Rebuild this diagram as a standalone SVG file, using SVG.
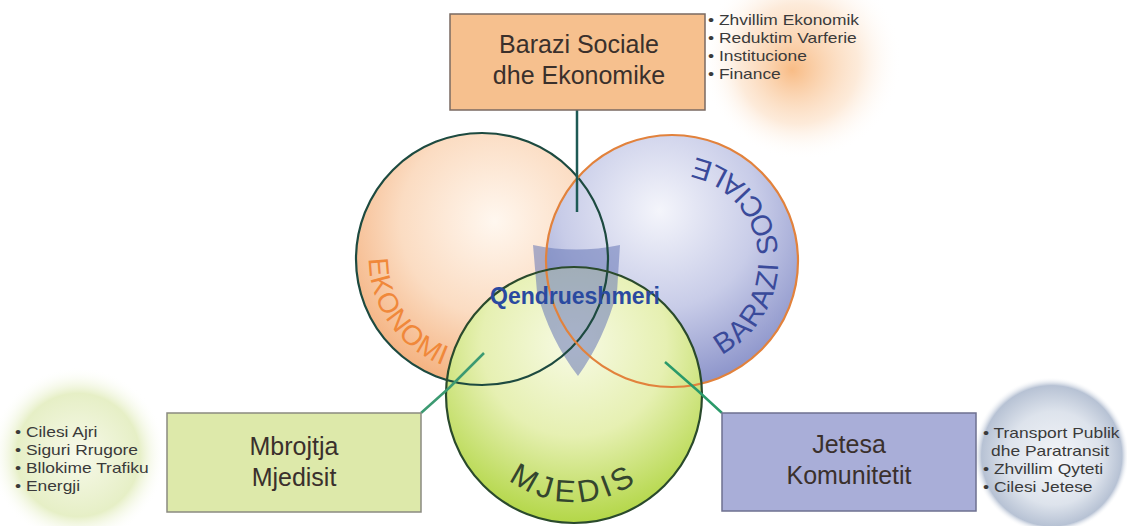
<svg xmlns="http://www.w3.org/2000/svg" width="1127" height="526" viewBox="0 0 1127 526">
<style>
.box{stroke-width:1.5}
.bt{font-family:"Liberation Sans",Arial,sans-serif;font-size:25px;fill:#3a302c;text-anchor:middle}
.bl{font-family:"Liberation Sans",Arial,sans-serif;font-size:15px;fill:#3a3a3a}
.ring{fill:none;stroke-width:2.2}
.conn{fill:none;stroke-width:2.5;stroke-linejoin:round}
.arc{font-family:"Liberation Sans",Arial,sans-serif}
</style>
<defs>
<radialGradient id="ekoG" cx="0.55" cy="0.35" r="0.75">
<stop offset="0" stop-color="#fff7ef"/><stop offset="0.5" stop-color="#fbdcc2"/><stop offset="1" stop-color="#f2a56c"/>
</radialGradient>
<radialGradient id="barG" cx="0.45" cy="0.3" r="0.78">
<stop offset="0" stop-color="#f4f5fb"/><stop offset="0.5" stop-color="#c8cce8"/><stop offset="1" stop-color="#7f88c4"/>
</radialGradient>
<radialGradient id="mjeG" cx="0.5" cy="0.3" r="0.8">
<stop offset="0" stop-color="#f7fae4"/><stop offset="0.45" stop-color="#e6f0b2"/><stop offset="1" stop-color="#a4cf28"/>
</radialGradient>
<radialGradient id="orG" cx="0.5" cy="0.5" r="0.5" fx="0.45" fy="0.55">
<stop offset="0" stop-color="#f7b070" stop-opacity="0.85"/><stop offset="0.6" stop-color="#fbd6b4" stop-opacity="0.5"/><stop offset="1" stop-color="#ffffff" stop-opacity="0"/>
</radialGradient>
<radialGradient id="grG" cx="0.5" cy="0.5" r="0.5">
<stop offset="0" stop-color="#f7f9ea"/><stop offset="0.7" stop-color="#e6efc6"/><stop offset="1" stop-color="#ffffff" stop-opacity="0"/>
</radialGradient>
<radialGradient id="blG" cx="0.5" cy="0.5" r="0.5" fx="0.55" fy="0.55">
<stop offset="0" stop-color="#f6f7fa"/><stop offset="0.6" stop-color="#dde3ec"/><stop offset="0.9" stop-color="#b7c2d4"/><stop offset="1" stop-color="#ffffff" stop-opacity="0"/>
</radialGradient>
<path id="pEko" d="M379.6,211.2 A113,113 0 0 0 491.9,371.6"/>
<path id="pBar" d="M695.8,364.3 A106,106 0 0 0 666.5,155.1"/>
<path id="pMje" d="M481.3,448.5 A107,107 0 0 0 666.7,448.5"/>
</defs>
<rect width="1127" height="526" fill="#ffffff"/>

<!-- glows -->
<circle cx="802" cy="60" r="100" fill="url(#orG)"/>
<circle cx="78" cy="455" r="88" fill="url(#grG)"/>
<circle cx="1051" cy="455" r="78" fill="url(#blG)"/>

<!-- circle fills -->
<g id="circles">
<circle id="ekonomi" cx="482" cy="259" r="126" fill="url(#ekoG)"/>
<circle id="barazi" cx="672" cy="261" r="126" fill="url(#barG)"/>
<circle id="mjedis" cx="574" cy="395" r="128" fill="url(#mjeG)"/>
<path id="shield" d="M533,245 Q576,254 620,245 L617,292 Q604,340 578,376 Q550,340 537,292 Z" fill="#6676b6" fill-opacity="0.55"/>
<circle cx="482" cy="259" r="126" class="ring" stroke="#1d4a40"/>
<circle cx="672" cy="261" r="126" class="ring" stroke="#e2823c"/>
<circle cx="574" cy="395" r="128" class="ring" stroke="#2a4a2c"/>
</g>

<!-- connectors -->
<g id="connectors">
<line x1="577" y1="110" x2="577" y2="212" class="conn" stroke="#1e5a55"/>
<polyline points="484,353 449,388 421,413" class="conn" stroke="#3c9a72"/>
<polyline points="665,362 697,390 722,413" class="conn" stroke="#2a9a6a"/>
</g>

<!-- circle labels -->
<text class="arc" font-size="28" fill="#f0883a" letter-spacing="1"><textPath href="#pEko" startOffset="50%" text-anchor="middle">EKONOMI</textPath></text>
<text class="arc" font-size="29" fill="#3a4a9a" letter-spacing="1.5"><textPath href="#pBar" startOffset="50%" text-anchor="middle">BARAZI SOCIALE</textPath></text>
<text class="arc" font-size="31" fill="#34452e" letter-spacing="4.5"><textPath href="#pMje" startOffset="50%" text-anchor="middle">MJEDIS</textPath></text>
<text x="575" y="304" font-family="Liberation Sans, Arial, sans-serif" font-weight="bold" font-size="23" fill="#2a4aa0" text-anchor="middle">Qendrueshmeri</text>

<!-- boxes -->
<g id="box-top">
<rect x="450" y="14" width="255" height="96" fill="#f6c08e" stroke="#7a6a62" class="box"/>
<text x="579" y="53" class="bt">Barazi Sociale</text>
<text x="579" y="84" class="bt">dhe Ekonomike</text>
</g>
<g id="box-left">
<rect x="167" y="413" width="254" height="99" fill="#dde9aa" stroke="#8a8a80" class="box"/>
<text x="294" y="455" class="bt">Mbrojtja</text>
<text x="294" y="486" class="bt">Mjedisit</text>
</g>
<g id="box-right">
<rect x="722" y="413" width="254" height="98" fill="#a9aed8" stroke="#6e7090" class="box"/>
<text x="849" y="453" class="bt">Jetesa</text>
<text x="849" y="484" class="bt">Komunitetit</text>
</g>

<!-- bullet lists -->
<g id="list-top" transform="translate(708,0) scale(1.16,1)">
<text x="0" y="25" class="bl">• Zhvillim Ekonomik</text>
<text x="0" y="43" class="bl">• Reduktim Varferie</text>
<text x="0" y="61" class="bl">• Institucione</text>
<text x="0" y="79" class="bl">• Finance</text>
</g>
<g id="list-left" transform="translate(15,0) scale(1.16,1)">
<text x="0" y="437" class="bl">• Cilesi Ajri</text>
<text x="0" y="455" class="bl">• Siguri Rrugore</text>
<text x="0" y="473" class="bl">• Bllokime Trafiku</text>
<text x="0" y="491" class="bl">• Energji</text>
</g>
<g id="list-right" transform="translate(983,0) scale(1.16,1)">
<text x="0" y="438" class="bl">• Transport Publik</text>
<text x="7" y="456" class="bl">dhe Paratransit</text>
<text x="0" y="474" class="bl">• Zhvillim Qyteti</text>
<text x="0" y="492" class="bl">• Cilesi Jetese</text>
</g>
</svg>
